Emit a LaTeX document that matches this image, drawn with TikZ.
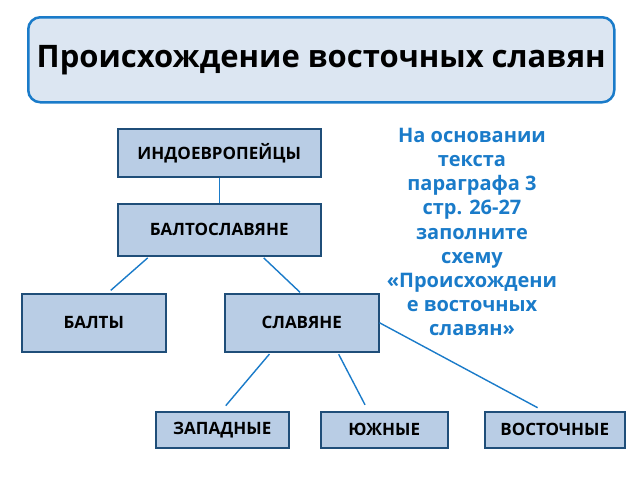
\documentclass[tikz,border=0pt]{standalone}
\usepackage{fontspec}
\setmainfont{Open Sans}
\usetikzlibrary{positioning}
\definecolor{titlefill}{HTML}{DCE6F2}
\definecolor{linkblue}{HTML}{1A7BC9}
\definecolor{boxfill}{HTML}{B9CDE5}
\definecolor{boxline}{HTML}{1F4E79}
\tikzset{
  group/.style={draw=boxline, line width=1.5pt, fill=boxfill, font=\bfseries\fontsize{17}{20}\selectfont,
    inner sep=0pt, anchor=north west},
  link/.style={draw=linkblue, line width=1.4pt}
}
\begin{document}
\begin{tikzpicture}[x=1pt,y=-1pt]
  \useasboundingbox (0,0) rectangle (640,480);

  \node[draw=linkblue, line width=2.5pt, fill=titlefill, rounded corners=12pt,
    minimum width=586pt, minimum height=85pt, anchor=north west,
    font=\bfseries\fontsize{31}{36}\selectfont]
    (Title) at (27,16) {Происхождение восточных славян};

  \node[group, minimum width=203pt, minimum height=48pt]
    (IndoEuropeans) at (117,128) {ИНДОЕВРОПЕЙЦЫ};
  \node[group, minimum width=203pt, minimum height=52pt]
    (BaltoSlavs) at (117,203) {БАЛТОСЛАВЯНЕ};
  \node[group, minimum width=144pt, minimum height=58pt]
    (Balts) at (21,293) {БАЛТЫ};
  \node[group, minimum width=154pt, minimum height=58pt]
    (Slavs) at (224,293) {СЛАВЯНЕ};
  \node[group, minimum width=133pt, minimum height=36pt]
    (Western) at (155,411) {ЗАПАДНЫЕ};
  \node[group, minimum width=127pt, minimum height=36pt]
    (Southern) at (320,411) {ЮЖНЫЕ};
  \node[group, minimum width=140pt, minimum height=36pt]
    (Eastern) at (484,411) {ВОСТОЧНЫЕ};

  \node[align=center, text=linkblue, font=\bfseries\fontsize{20}{24.2}\selectfont]
    (Task) at (472,232) {На основании\\текста\\параграфа 3\\стр. 26-27\\заполните\\схему\\«Происхождени\\е восточных\\славян»};

  \draw[link] (IndoEuropeans.south) -- (BaltoSlavs.north);
  \draw[link, shorten <=2pt, shorten >=4pt] ([xshift=-70pt]BaltoSlavs.south) -- ([xshift=14pt]Balts.north);
  \draw[link, shorten <=2pt, shorten >=1pt] ([xshift=43pt]BaltoSlavs.south) -- ([xshift=-1pt]Slavs.north);
  \draw[link, shorten <=2pt, shorten >=7pt] ([xshift=-31pt]Slavs.south) -- ([xshift=-1pt]Western.north);
  \draw[link, shorten <=2pt, shorten >=7pt] ([xshift=36pt]Slavs.south) -- ([xshift=-16pt]Southern.north);
  \draw[link, shorten >=7pt] (Slavs.east) -- ([xshift=-11pt]Eastern.north);
\end{tikzpicture}
\end{document}
